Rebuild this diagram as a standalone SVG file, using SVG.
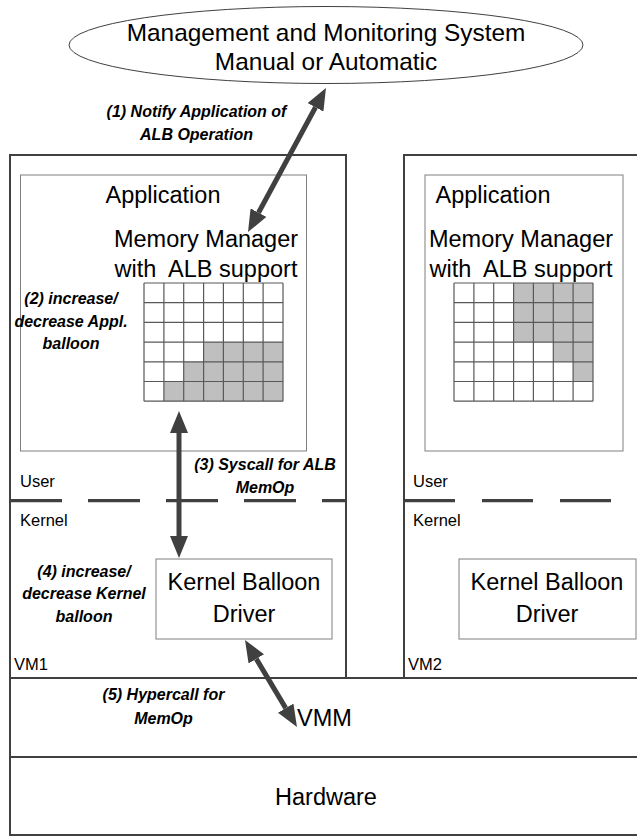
<svg xmlns="http://www.w3.org/2000/svg" xmlns:xlink="http://www.w3.org/1999/xlink" width="637" height="839" viewBox="0 0 637 839">
<style>
text{font-family:"Liberation Sans",Arial,sans-serif;fill:#000}
.big{font-size:23.5px}
.sm{font-size:16.5px}
.lab{font-size:16px;font-weight:bold;font-style:italic}
.mid{text-anchor:middle}
.outer{fill:none;stroke:#404040;stroke-width:2}
.inner{fill:#fff;stroke:#7f7f7f;stroke-width:1}
.gl{stroke:#595959;stroke-width:1.2;fill:none}
.grey{fill:#bfbfbf}
.dash{stroke:#404040;stroke-width:3.3;stroke-dasharray:52 26;fill:none}
.arr{stroke:#404040;stroke-width:5;fill:none;marker-start:url(#ah);marker-end:url(#ah)}
</style>
<defs>
<marker id="ah" markerUnits="userSpaceOnUse" markerWidth="22" markerHeight="18" viewBox="0 0 22 18" refX="0" refY="9" orient="auto-start-reverse"><path d="M0,0 L22,9 L0,18 z" fill="#404040"/></marker>
<g id="grid">
<path class="gl" d="M0,0H139M0,19.7H139M0,39.4H139M0,59.1H139M0,78.8H139M0,98.5H139M0,118.2H139M0,0V118.2M19.9,0V118.2M39.7,0V118.2M59.6,0V118.2M79.4,0V118.2M99.3,0V118.2M119.1,0V118.2M139,0V118.2"/>
</g>
</defs>
<rect width="637" height="839" fill="#fff"/>

<g id="mgmt">
<ellipse cx="326" cy="45" rx="257" ry="38.5" fill="#fff" stroke="#404040" stroke-width="1"/>
<text class="big mid" x="326" y="41" style="font-size:24.4px">Management and Monitoring System</text>
<text class="big mid" x="326" y="70" style="font-size:24.4px">Manual or Automatic</text>
</g>

<g id="vm1">
<rect class="outer" x="10" y="155" width="336" height="523"/>
<path class="dash" d="M10,500.7H346"/>
<text class="sm" x="20" y="487">User</text>
<text class="sm" x="20" y="526">Kernel</text>
<text class="sm" x="14" y="670">VM1</text>
</g>
<g id="vm1-app">
<rect class="inner" x="20.5" y="175" width="286" height="276"/>
<text class="big mid" x="163" y="203">Application</text>
<text class="big mid" x="206" y="247">Memory Manager</text>
<text class="big mid" x="206" y="277" xml:space="preserve">with  ALB support</text>
</g>
<g id="vm1-grid">
<path class="grey" d="M203.6,342.1H283V401.2H163.9V381.5H183.7V361.8H203.6Z"/>
<use xlink:href="#grid" href="#grid" x="144" y="283"/>
</g>
<g id="vm1-kbd">
<rect class="inner" x="156" y="559" width="176" height="80"/>
<text class="big mid" x="244" y="590">Kernel Balloon</text>
<text class="big mid" x="244" y="622">Driver</text>
</g>

<g id="vm2">
<rect class="outer" x="404" y="155" width="260" height="523"/>
<path class="dash" d="M404,500.7H640" style="stroke-dasharray:51 27"/>
<text class="sm" x="413" y="487">User</text>
<text class="sm" x="413" y="526">Kernel</text>
<text class="sm" x="408" y="670">VM2</text>
</g>
<g id="vm2-app">
<rect class="inner" x="425" y="175" width="198" height="276"/>
<text class="big mid" x="493" y="203">Application</text>
<text class="big mid" x="521" y="247">Memory Manager</text>
<text class="big mid" x="521" y="277" xml:space="preserve">with  ALB support</text>
</g>
<g id="vm2-grid">
<path class="grey" d="M513.6,283H593V381.5H573.1V361.8H553.3V342.1H513.6Z"/>
<use xlink:href="#grid" href="#grid" x="454" y="283"/>
</g>
<g id="vm2-kbd">
<rect class="inner" x="459" y="559" width="177" height="80"/>
<text class="big mid" x="547" y="590">Kernel Balloon</text>
<text class="big mid" x="547" y="622">Driver</text>
</g>

<g id="vmm">
<rect class="outer" x="10" y="678" width="640" height="79"/>
<text class="big" x="297" y="726">VMM</text>
</g>
<g id="hardware">
<rect class="outer" x="10" y="757" width="640" height="78"/>
<text class="big mid" x="326" y="805">Hardware</text>
</g>

<g id="connectors">
<line class="arr" x1="315.5" y1="107.3" x2="258.5" y2="212.7"/>
<line class="arr" x1="179" y1="433" x2="179" y2="536"/>
<line class="arr" x1="256.3" y1="658.9" x2="285.7" y2="708.1"/>
</g>

<g id="labels">
<text class="lab mid" x="196.5" y="117">(1) Notify Application of</text>
<text class="lab mid" x="196.5" y="140">ALB Operation</text>
<text class="lab mid" x="71" y="304">(2) increase/</text>
<text class="lab mid" x="71" y="327">decrease Appl.</text>
<text class="lab mid" x="71" y="349">balloon</text>
<text class="lab mid" x="265" y="470">(3) Syscall for ALB</text>
<text class="lab mid" x="265" y="493">MemOp</text>
<text class="lab mid" x="84" y="577">(4) increase/</text>
<text class="lab mid" x="84" y="599">decrease Kernel</text>
<text class="lab mid" x="84" y="622">balloon</text>
<text class="lab mid" x="163.5" y="700">(5) Hypercall for</text>
<text class="lab mid" x="163.5" y="724">MemOp</text>
</g>
</svg>
